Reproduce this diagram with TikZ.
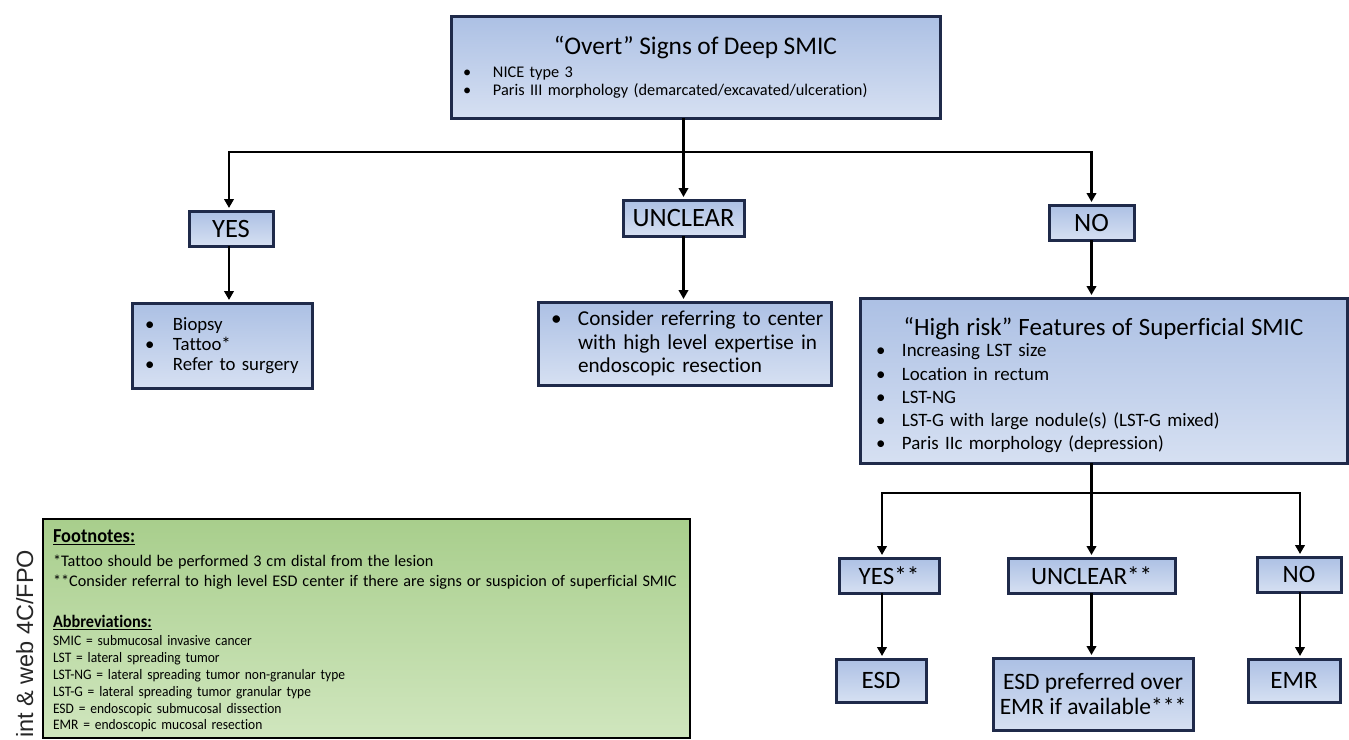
\documentclass[tikz,border=0pt]{standalone}
\usepackage{fontspec}
\setmainfont{Carlito}[Ligatures=NoCommon]
\newfontfamily\arialf{Liberation Sans}
\usetikzlibrary{arrows.meta}
\definecolor{bordc}{RGB}{31,42,74}
\definecolor{boxtop}{RGB}{172,192,228}
\definecolor{boxbot}{RGB}{214,224,242}
\definecolor{greentop}{RGB}{168,206,140}
\definecolor{greenbot}{RGB}{208,230,190}
\newcommand\bul[2]{\mbox{\makebox[#1][l]{•}#2}}
\newcommand\fs[2]{\fontsize{#1}{#2}\selectfont\lineskiplimit=-50pt\relax}
\begin{document}
\begin{tikzpicture}[x=1pt,y=-1pt,
  box/.style={draw=bordc, line width=3pt, top color=boxtop, bottom color=boxbot, inner sep=0pt, outer sep=0pt},
  lbl/.style={box, align=center, font=\fs{26.5}{30}},
  lbltwo/.style={box, align=center, font=\fs{25}{28}},
  wire/.style={line width=2.6pt, black},
  arr/.style={wire, -{Triangle[length=9pt,width=9.5pt]}, shorten >=3pt},
  fbox/.style={draw=black, line width=2.6pt, top color=greentop, bottom color=greenbot, inner sep=0pt, outer sep=0pt}
]
\useasboundingbox (0,0) rectangle (1349,739);
\fill[white] (0,0) rectangle (1349,739);

% top box
\node[box, inner xsep=12pt, text width=465pt, minimum height=102pt, align=left,
      font=\fs{16.3}{18.5}] (top) at (695.5,67)
  {\makebox[465pt][c]{\fs{25.4}{25.4}“Overt” Signs of Deep SMIC}\\[4.5pt]
   \bul{30pt}{NICE type 3}\\
   \bul{30pt}{Paris III morphology (demarcated/excavated/ulceration)}};

% first level labels
\node[lbl, minimum width=84pt, minimum height=35pt] (yes) at (231,228.5) {YES};
\node[lbl, minimum width=121pt, minimum height=36pt] (unc) at (683.5,218) {UNCLEAR};
\node[lbl, minimum width=85pt, minimum height=35pt] (no) at (1091.5,222.5) {NO};

% second level boxes
\node[box, inner xsep=13pt, text width=154pt, minimum height=85pt, align=left,
      font=\fs{18.8}{19.7}] (lb) at (222,345.5)
  {\bul{28pt}{Biopsy}\\ \bul{28pt}{Tattoo*}\\ \bul{28pt}{Refer to surgery}};
\node[box, inner xsep=13pt, text width=267pt, minimum height=83pt, align=left,
      font=\fs{21.2}{23.3}] (mb) at (684.5,343.5)
  {\bul{27pt}{Consider referring to center}\\
   \mbox{\hspace*{27pt}with high level expertise in}\\
   \mbox{\hspace*{27pt}endoscopic resection}};
\node[box, inner xsep=16pt, text width=455pt, minimum height=165pt, align=left,
      font=\fs{18.9}{23.3}] (hr) at (1103.5,380.5)
  {\makebox[455pt][c]{\fs{24.9}{24.9}\rule{0pt}{28pt}“High risk” Features of Superficial SMIC}\\[-2.3pt]
   \bul{26pt}{Increasing LST size}\\
   \bul{26pt}{Location in rectum}\\
   \bul{26pt}{LST-NG}\\
   \bul{26pt}{LST-G with large nodule(s) (LST-G mixed)}\\
   \bul{26pt}{Paris IIc morphology (depression)}};

% third level
\node[lbltwo, minimum width=100pt, minimum height=35pt] (yes2) at (889,575.5) {YES**};
\node[lbltwo, minimum width=167pt, minimum height=35pt] (unc2) at (1091.5,575.5) {UNCLEAR**};
\node[lbltwo, minimum width=84pt, minimum height=35pt] (no2) at (1299,574.5) {NO};

\node[lbltwo, minimum width=90pt, minimum height=43pt] (esd) at (881,680.5) {ESD};
\node[box, align=center, font=\fs{23.5}{24.5}, minimum width=200pt, minimum height=72pt] (pref) at (1093,694) {ESD preferred over\\EMR if available***};
\node[lbltwo, minimum width=92pt, minimum height=43pt] (emr) at (1294,680.5) {EMR};

% footnotes
\node[fbox, inner xsep=10pt, text width=627pt, minimum height=219pt, align=left,
      font=\fs{14.5}{16.8}\addfontfeature{FakeStretch=0.93}] (foot) at (366.5,628.5)
  {{\fs{19.8}{18}\bfseries\rule{0pt}{18pt}\underline{Footnotes:}}\\[7.2pt]
   {\fs{16.2}{17}\addfontfeature{FakeStretch=1.0}*Tattoo should be performed 3 cm distal from the lesion}\\[3.2pt]
   {\fs{16.2}{17}\addfontfeature{FakeStretch=1.0}**Consider referral to high level ESD center if there are signs or suspicion of superficial SMIC}\\[24.2pt]
   {\fs{17.5}{18}\bfseries\underline{Abbreviations:}}\\[1.2pt]
   SMIC = submucosal invasive cancer\\
   LST = lateral spreading tumor\\
   LST-NG = lateral spreading tumor non-granular type\\
   LST-G = lateral spreading tumor granular type\\
   ESD = endoscopic submucosal dissection\\
   EMR = endoscopic mucosal resection};

% side text
\node[rotate=90, anchor=base west, inner sep=0pt, text=black!85,
      font=\arialf\fontsize{23.5}{23.5}\selectfont] (fpo) at (33,738) {int \& web 4C/FPO};

% connectors
\draw[wire] (top.south -| unc) -- (683.5,152) coordinate (j1);
\draw[arr] (j1) -| ([xshift=-2pt]yes.north);
\draw[arr] (j1) -- (unc.north);
\draw[arr] (j1) -| (no.north);
\draw[arr] ([xshift=-2pt]yes.south) -- ([xshift=-2pt]yes.south |- lb.north);
\draw[arr] (unc.south) -- (unc.south |- mb.north);
\draw[arr] (no.south) -- (no.south |- hr.north);

\draw[wire] (hr.south -| no) -- (1091.5,493) coordinate (j2);
\draw[arr] (j2) -| ([xshift=-7pt]yes2.north);
\draw[arr] (j2) -- (unc2.north);
\draw[arr] (j2) -| ([xshift=1pt]no2.north);
\draw[arr] ([xshift=-7pt]yes2.south) -- ([xshift=-7pt]yes2.south |- esd.north);
\draw[arr] (unc2.south) -- (unc2.south |- pref.north);
\draw[arr] ([xshift=1pt]no2.south) -- ([xshift=1pt]no2.south |- emr.north);
\end{tikzpicture}
\end{document}
